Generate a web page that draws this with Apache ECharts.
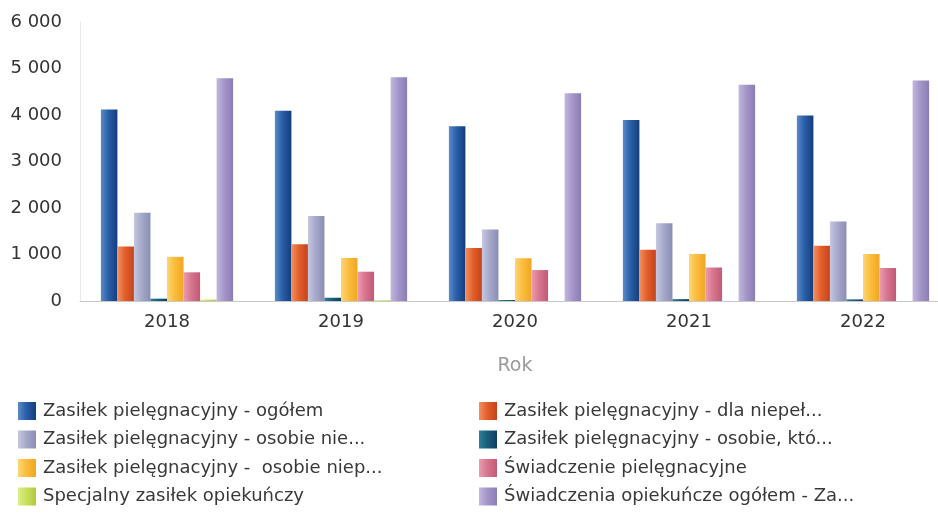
<!DOCTYPE html>
<html>
<head>
<meta charset="utf-8">
<script src="https://cdn.jsdelivr.net/npm/echarts@6/dist/echarts.min.js"></script>
<style>
html,body{margin:0;padding:0;background:#fff;}
#c{width:938px;height:515px;}
</style>
</head>
<body>
<div id="c"></div>
<script>
var years = ['2018', '2019', '2020', '2021', '2022'];
var seriesNames = [
  'Zasiłek pielęgnacyjny - ogółem',
  'Zasiłek pielęgnacyjny - dla niepeł...',
  'Zasiłek pielęgnacyjny - osobie nie...',
  'Zasiłek pielęgnacyjny - osobie, któ...',
  'Zasiłek pielęgnacyjny -  osobie niep...',
  'Świadczenie pielęgnacyjne',
  'Specjalny zasiłek opiekuńczy',
  'Świadczenia opiekuńcze ogółem - Za...'
];
var zpOgolem = [4120, 4090, 3760, 3890, 3990];
var zpDlaNiepel = [1170, 1220, 1140, 1100, 1190];
var zpOsobieNie = [1900, 1830, 1540, 1670, 1710];
var zpOsobieKto = [50, 70, 20, 40, 35];
var zpOsobieNiep = [950, 925, 920, 1010, 1010];
var swPielegnacyjne = [617, 630, 665, 720, 710];
var specjalny = [30, 15, 0, 0, 0];
var swOgolem = [4790, 4810, 4470, 4650, 4740];
var yTicks = [0, 1000, 2000, 3000, 4000, 5000, 6000];

var allData = [zpOgolem, zpDlaNiepel, zpOsobieNie, zpOsobieKto, zpOsobieNiep, swPielegnacyjne, specjalny, swOgolem];
var palettes = [
  ['#5b8cc9', '#2a5fa8', '#143d7c'],
  ['#f39063', '#e35f2b', '#c4431b'],
  ['#c6c8df', '#a6a9ca', '#8b8eb6'],
  ['#2f7f96', '#1a5f7c', '#103f5e'],
  ['#fdd675', '#fbbd3d', '#f0a622'],
  ['#eb9cb0', '#d8758f', '#c25976'],
  ['#dcee8a', '#c9e05a', '#b2ca3e'],
  ['#c3b8de', '#a596c9', '#8b7cb4']
];
function grad(p) {
  return new echarts.graphic.LinearGradient(0, 0, 1, 0, [
    {offset: 0, color: p[0]}, {offset: 0.45, color: p[1]}, {offset: 1, color: p[2]}
  ]);
}
var series = allData.map(function (d, i) {
  return {
    name: seriesNames[i],
    type: 'bar',
    data: d,
    barGap: '0%',
    barCategoryGap: '24%',
    itemStyle: {color: grad(palettes[i])}
  };
});
var FONT = '"DejaVu Sans", sans-serif';
var legendText = {color: '#383838', fontSize: 18, fontFamily: FONT, lineHeight: 18, padding: [0, 0, 0, 2]};
var chart = echarts.init(document.getElementById('c'), null, {renderer: 'canvas'});
chart.setOption({
  animation: false,
  backgroundColor: '#fff',
  grid: {left: 80, width: 870, top: 22, bottom: 214, containLabel: false, outerBoundsMode: 'none'},
  xAxis: {
    type: 'category',
    data: years,
    name: 'Rok',
    nameLocation: 'middle',
    nameGap: 56,
    nameTextStyle: {color: '#9a9a9a', fontSize: 19, fontFamily: FONT},
    axisLine: {lineStyle: {color: '#c8c8c8'}},
    axisTick: {show: false},
    axisLabel: {color: '#333', fontSize: 18, fontFamily: FONT, margin: 12}
  },
  yAxis: {
    type: 'value',
    min: yTicks[0],
    max: yTicks[yTicks.length - 1],
    interval: 1000,
    axisLine: {show: true, lineStyle: {color: '#e6e6e6', type: 'dotted'}},
    axisTick: {show: false},
    splitLine: {show: false},
    axisLabel: {
      color: '#333', fontSize: 18, fontFamily: FONT, margin: 18,
      formatter: function (v) { return String(v).replace(/\B(?=(\d{3})+(?!\d))/g, ' '); }
    }
  },
  legend: [
    {
      orient: 'vertical', left: 18, top: 402, height: 113, padding: 0,
      itemWidth: 18, itemHeight: 18, itemGap: 10.5, icon: 'rect',
      textStyle: legendText,
      data: [seriesNames[0], seriesNames[2], seriesNames[4], seriesNames[6]]
    },
    {
      orient: 'vertical', left: 479, top: 402, height: 113, padding: 0,
      itemWidth: 18, itemHeight: 18, itemGap: 10.5, icon: 'rect',
      textStyle: legendText,
      data: [seriesNames[1], seriesNames[3], seriesNames[5], seriesNames[7]]
    }
  ],
  series: series
});
</script>
</body>
</html>
